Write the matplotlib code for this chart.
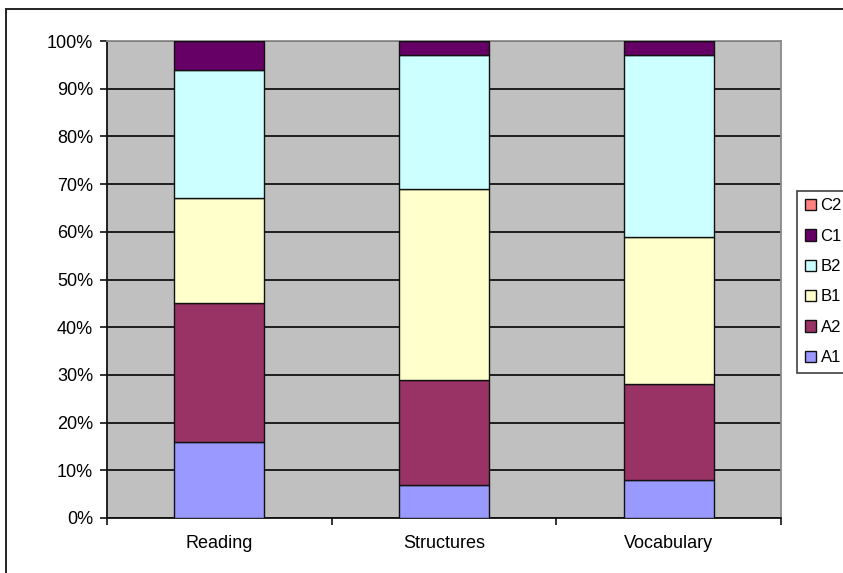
import matplotlib
matplotlib.use("Agg")
import matplotlib.pyplot as plt
from matplotlib.patches import Rectangle, Patch
from matplotlib.ticker import PercentFormatter, FixedLocator

plt.rcParams['font.family'] = ['Liberation Sans', 'DejaVu Sans']

categories = ["Reading", "Structures", "Vocabulary"]
levels = ["A1", "A2", "B1", "B2", "C1", "C2"]
A1 = [16, 7, 8]
A2 = [29, 22, 20]
B1 = [22, 40, 31]
B2 = [27, 28, 38]
C1 = [6, 3, 3]
C2 = [0, 0, 0]
series = [A1, A2, B1, B2, C1, C2]
colors = ["#9999FF", "#993366", "#FFFFCC", "#CCFFFF", "#660066", "#FF8080"]

W, H = 843, 573
fig = plt.figure(figsize=(W / 100, H / 100), dpi=100)

# outer chart frame
fig.patches.append(Rectangle((6 / W, -0.1), 1.2, 1 - 9 / H + 0.1,
                             transform=fig.transFigure, fill=False,
                             edgecolor="#222222", linewidth=1.4))

ax = fig.add_axes([107 / W, 1 - 518 / H, (781 - 107) / W, (518 - 41) / H])
ax.set_facecolor("#C0C0C0")

x = list(range(len(categories)))
bottom = [0] * len(categories)
handles = []
for name, vals, col in zip(levels, series, colors):
    ax.bar(x, vals, width=0.4, bottom=bottom, color=col,
           edgecolor="#111111", linewidth=1.0, zorder=3)
    bottom = [b + v for b, v in zip(bottom, vals)]
    handles.append(Patch(facecolor=col, edgecolor="#111111", linewidth=1.0, label=name))

ax.set_xlim(-0.5, len(categories) - 0.5)
ax.set_ylim(0, 100)
ax.set_yticks(range(0, 101, 10))
ax.yaxis.set_major_formatter(PercentFormatter(decimals=0))
ax.grid(axis="y", color="#111111", linewidth=1.3, zorder=1)
ax.set_axisbelow(True)

ax.set_xticks(x)
ax.set_xticklabels(categories)
ax.xaxis.set_minor_locator(FixedLocator([i - 0.5 for i in range(len(categories) + 1)]))
ax.tick_params(axis="x", which="major", length=0, pad=12, labelsize=13)
ax.tick_params(axis="x", which="minor", length=5, width=1.2, color="#111111")
ax.tick_params(axis="y", length=5, width=1.2, color="#111111", labelsize=13, pad=5)

for s in ("left", "bottom"):
    ax.spines[s].set_color("#111111")
    ax.spines[s].set_linewidth(1.3)
for s in ("top", "right"):
    ax.spines[s].set_color("#8a8a8a")
    ax.spines[s].set_linewidth(1.3)

leg = fig.legend(handles[::-1], levels[::-1], loc="upper left",
                 bbox_to_anchor=(797 / W, 1 - 191 / H), frameon=True,
                 fancybox=False, edgecolor="#111111", fontsize=12,
                 handlelength=0.66, handleheight=0.66, handletextpad=0.3,
                 labelspacing=0.92, borderpad=0.45, borderaxespad=0)
leg.get_frame().set_linewidth(1.2)

fig.savefig("out.png", dpi=100)
